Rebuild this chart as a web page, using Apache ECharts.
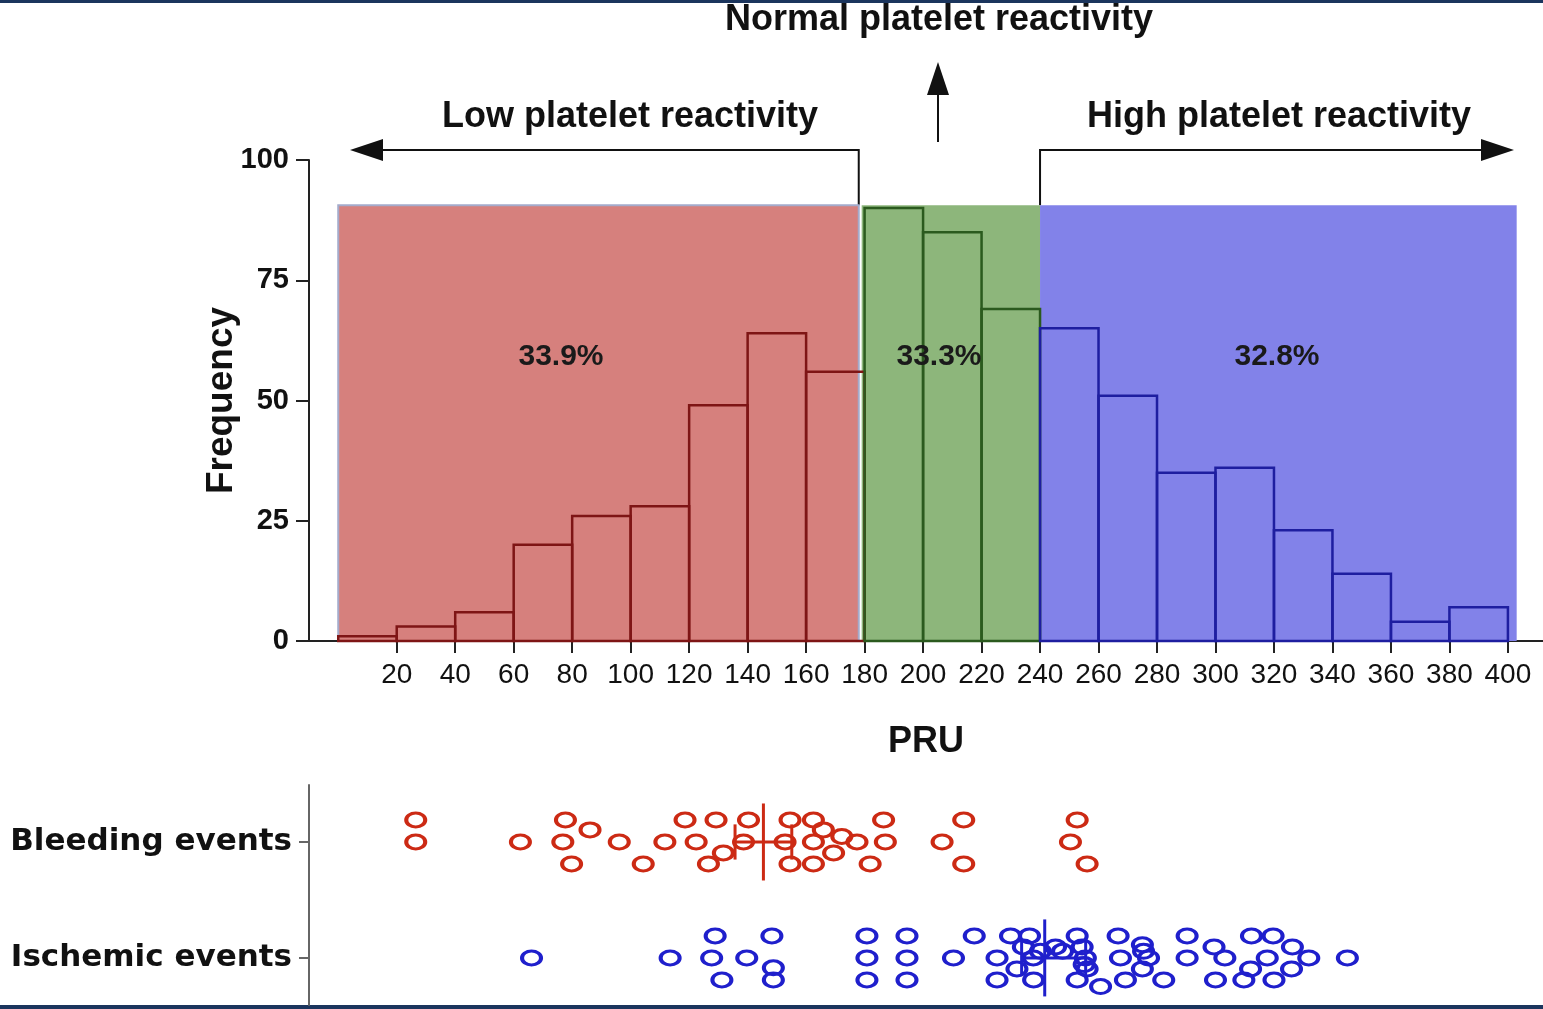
<!DOCTYPE html>
<html>
<head>
<meta charset="utf-8">
<script src="https://cdn.jsdelivr.net/npm/echarts@6/dist/echarts.min.js"></script>
<style>
html, body { margin: 0; padding: 0; background: #fff; }
#view { width: 1543px; height: 1009px; }
</style>
</head>
<body>
<div id="view"></div>
<script>
var myChart = echarts.init(document.getElementById('view'));

// histogram of PRU values (bins of 20)
var binEdges = [0, 20, 40, 60, 80, 100, 120, 140, 160, 180, 200, 220, 240, 260, 280, 300, 320, 340, 360, 380, 400];
var frequency = [1, 3, 6, 20, 26, 28, 49, 64, 56, 90, 85, 69, 65, 51, 35, 36, 23, 14, 4, 7];
var xTicks = [20, 40, 60, 80, 100, 120, 140, 160, 180, 200, 220, 240, 260, 280, 300, 320, 340, 360, 380, 400];

// reactivity zones
var zoneNames = ['Low platelet reactivity', 'Normal platelet reactivity', 'High platelet reactivity'];
var zoneFrom = [0, 179, 240];
var zoneTo = [178, 240, 403];
var zoneTop = 90.6;
var zoneShare = ['33.9%', '33.3%', '32.8%'];

// events: [PRU, stacking offset]
var eventRows = ['Ischemic events', 'Bleeding events'];
var bleeding = [
    [26.5, 1], [26.5, 0], [62.3, 0], [77.7, 1], [76.8, 0], [79.8, -1], [86.1, 0.55], [96.1, 0], [104.3, -1], [111.7, 0],
    [118.6, 1], [122.4, 0], [126.6, -1], [129.2, 1], [131.7, -0.5], [140.3, 1], [138.6, 0], [154.5, 1], [162.5, 1], [152.8, 0],
    [154.5, -1], [162.5, -1], [165.9, 0.55], [162.5, 0], [172.2, 0.25], [169.4, -0.5], [177.4, 0], [186.5, 1], [187.1, 0], [181.9, -1],
    [213.9, 1], [206.5, 0], [213.9, -1], [252.7, 1], [250.4, 0], [256.1, -1]
];
var ischemic = [
    [66.1, 0], [113.5, 0], [128.9, 1], [127.7, 0], [131.2, -1], [139.7, 0], [148.3, 1], [148.8, -0.45], [148.8, -1],
    [180.8, 1], [180.8, 0], [180.8, -1], [194.5, 1], [194.5, 0], [194.5, -1], [210.4, 0], [217.5, 1], [225.3, 0], [225.3, -1],
    [229.9, 1], [236.4, 1], [234.3, 0.5], [237.7, 0], [232.1, -0.5], [237.8, -1], [240.1, 0.3], [245.3, 0.5], [247.7, 0.3],
    [252.7, 1], [254.4, 0.5], [255.5, 0], [256.1, -0.5], [255.1, -0.3], [252.7, -1], [260.7, -1.3],
    [266.7, 1], [267.5, 0], [269.2, -1], [275.0, 0.6], [275.4, 0.3], [277.1, 0], [275.0, -0.5], [282.3, -1],
    [290.3, 1], [290.3, 0], [299.5, 0.5], [303.2, 0], [300.0, -1], [312.3, 1], [319.7, 1], [326.3, 0.5], [317.7, 0], [331.9, 0],
    [312.0, -0.5], [326.0, -0.5], [309.7, -1], [320.0, -1], [345.1, 0]
];
// [low, centre, high]
var bleedingCI = [135.7, 145.4, 155.1];
var ischemicCI = [233.7, 241.6, 255.6];

var rowPos = [0, 5.27];
var zoneFill = ['#D6807D', '#8DB67B', '#8282E9'];
var barEdge = ['#7E1515', '#2B5A1E', '#1E1EA0'];
var dotColor = ['#1F1FCC', '#CC2A14'];
var tickFont = '"Liberation Sans", Arial, sans-serif';

function zoneOf(v) {
    return v < zoneTo[0] ? 0 : (v < zoneTo[1] ? 1 : 2);
}

var zoneData = zoneNames.map(function (n, i) { return [zoneFrom[i], zoneTo[i], zoneTop, i]; });
var binData = frequency.map(function (f, i) { return [binEdges[i], binEdges[i + 1], f]; });
var ciData = [ischemicCI.concat([rowPos[0]]), bleedingCI.concat([rowPos[1]])];

function rowDots(list, r) {
    return list.map(function (d) { return [d[0], rowPos[r] + d[1]]; });
}

option = {
    animation: false,
    backgroundColor: '#fff',
    grid: [
        {left: 309, right: 0, top: 160, bottom: 368},
        {left: 309, right: 0, top: 785, bottom: 4}
    ],
    xAxis: [{
        gridIndex: 0,
        type: 'value',
        min: -10,
        max: 412,
        name: 'PRU',
        nameLocation: 'middle',
        nameGap: 83,
        nameTextStyle: {fontSize: 36, fontWeight: 'bold', color: '#111', fontFamily: tickFont},
        axisLine: {onZero: false, lineStyle: {color: '#222', width: 2}},
        axisTick: {customValues: xTicks, length: 12, lineStyle: {color: '#222', width: 2}},
        axisLabel: {customValues: xTicks, margin: 20, fontSize: 28, color: '#111', fontFamily: tickFont},
        splitLine: {show: false}
    }, {
        gridIndex: 1,
        type: 'value',
        min: -10,
        max: 412,
        show: false
    }],
    yAxis: [{
        gridIndex: 0,
        type: 'value',
        min: 0,
        max: 100,
        interval: 25,
        name: 'Frequency',
        nameLocation: 'middle',
        nameGap: 69,
        nameMoveOverlap: false,
        nameTextStyle: {fontSize: 37, fontWeight: 'bold', color: '#111', fontFamily: tickFont},
        axisLine: {show: true, onZero: false, lineStyle: {color: '#222', width: 2}},
        axisTick: {show: true, length: 13, lineStyle: {color: '#222', width: 2}},
        axisLabel: {margin: 20, fontSize: 29, fontWeight: 'bold', color: '#111', fontFamily: tickFont},
        splitLine: {show: false}
    }, {
        gridIndex: 1,
        type: 'value',
        min: -2.14,
        max: 7.86,
        axisLine: {show: true, onZero: false, lineStyle: {color: '#666', width: 2}},
        axisTick: {show: true, customValues: rowPos, length: 10, lineStyle: {color: '#666', width: 2}},
        axisLabel: {
            customValues: rowPos,
            margin: 17,
            fontSize: 31,
            fontWeight: 'bold',
            color: '#111',
            fontFamily: '"DejaVu Sans", Verdana, sans-serif',
            formatter: function (v) {
                for (var i = 0; i < rowPos.length; i++) {
                    if (Math.abs(v - rowPos[i]) < 0.01) return eventRows[i];
                }
                return '';
            }
        },
        splitLine: {show: false}
    }],
    series: [{
        name: 'zones',
        type: 'custom',
        xAxisIndex: 0,
        yAxisIndex: 0,
        z: 1,
        data: zoneData,
        encode: {x: [0, 1], y: 2},
        renderItem: function (params, api) {
            var p0 = api.coord([api.value(0), 0]);
            var p1 = api.coord([api.value(1), api.value(2)]);
            var i = api.value(3);
            return {
                type: 'rect',
                shape: {x: p0[0], y: p1[1], width: p1[0] - p0[0], height: p0[1] - p1[1]},
                style: {fill: zoneFill[i], stroke: i === 0 ? '#A4ABCB' : null, lineWidth: 2}
            };
        }
    }, {
        name: 'Frequency',
        type: 'custom',
        xAxisIndex: 0,
        yAxisIndex: 0,
        z: 2,
        data: binData,
        encode: {x: [0, 1], y: 2},
        renderItem: function (params, api) {
            var p0 = api.coord([api.value(0), 0]);
            var p1 = api.coord([api.value(1), api.value(2)]);
            return {
                type: 'rect',
                shape: {x: p0[0], y: p1[1], width: p1[0] - p0[0], height: p0[1] - p1[1]},
                style: {fill: null, stroke: barEdge[zoneOf(api.value(0))], lineWidth: 2.5}
            };
        }
    }, {
        name: eventRows[1],
        type: 'scatter',
        xAxisIndex: 1,
        yAxisIndex: 1,
        symbol: 'circle',
        symbolSize: [19, 14],
        itemStyle: {color: 'rgba(0,0,0,0)', borderColor: dotColor[1], borderWidth: 3.5, opacity: 1},
        data: rowDots(bleeding, 1)
    }, {
        name: eventRows[0],
        type: 'scatter',
        xAxisIndex: 1,
        yAxisIndex: 1,
        symbol: 'circle',
        symbolSize: [19, 14],
        itemStyle: {color: 'rgba(0,0,0,0)', borderColor: dotColor[0], borderWidth: 3.5, opacity: 1},
        data: rowDots(ischemic, 0)
    }, {
        name: 'ci',
        type: 'custom',
        xAxisIndex: 1,
        yAxisIndex: 1,
        z: 5,
        data: ciData,
        encode: {x: [0, 1, 2], y: 3},
        renderItem: function (params, api) {
            var lo = api.value(0), mid = api.value(1), hi = api.value(2), row = api.value(3);
            var c = dotColor[params.dataIndex];
            var st = {stroke: c, lineWidth: 3};
            function seg(x1, y1, x2, y2) {
                var a = api.coord([x1, y1]), b = api.coord([x2, y2]);
                return {type: 'line', shape: {x1: a[0], y1: a[1], x2: b[0], y2: b[1]}, style: st};
            }
            return {
                type: 'group',
                children: [
                    seg(mid, row - 1.75, mid, row + 1.75),
                    seg(lo, row, hi, row),
                    seg(lo, row - 0.8, lo, row + 0.8),
                    seg(hi, row - 0.8, hi, row + 0.8)
                ]
            };
        }
    }]
};

myChart.setOption(option);

// annotations: arrows and zone labels
var xLow = myChart.convertToPixel({xAxisIndex: 0}, zoneTo[0]);
var xHigh = myChart.convertToPixel({xAxisIndex: 0}, zoneFrom[2]);
var yTop = myChart.convertToPixel({yAxisIndex: 0}, zoneTop);
var titleFont = 'bold 36px "Liberation Sans", Arial, sans-serif';
var shareFont = 'bold 30px "Liberation Sans", Arial, sans-serif';
var arrowStyle = {stroke: '#111', lineWidth: 2, fill: null};

myChart.setOption({
    graphic: [
        {type: 'rect', shape: {x: 0, y: 0, width: 1543, height: 3}, style: {fill: '#1B355D'}},
        {type: 'rect', shape: {x: 0, y: 1005, width: 1543, height: 4}, style: {fill: '#1B355D'}},
        {type: 'polyline', shape: {points: [[xLow, yTop], [xLow, 150], [380, 150]]}, style: arrowStyle},
        {type: 'polygon', shape: {points: [[350, 150], [383, 139], [383, 161]]}, style: {fill: '#111'}},
        {type: 'polyline', shape: {points: [[xHigh, yTop], [xHigh, 150], [1484, 150]]}, style: arrowStyle},
        {type: 'polygon', shape: {points: [[1514, 150], [1481, 139], [1481, 161]]}, style: {fill: '#111'}},
        {type: 'line', shape: {x1: 938, y1: 142, x2: 938, y2: 92}, style: arrowStyle},
        {type: 'polygon', shape: {points: [[938, 62], [927, 95], [949, 95]]}, style: {fill: '#111'}},
        {type: 'text', style: {text: zoneNames[1], x: 939, y: 20, align: 'center', verticalAlign: 'middle', font: titleFont, fill: '#111'}},
        {type: 'text', style: {text: zoneNames[0], x: 630, y: 117, align: 'center', verticalAlign: 'middle', font: titleFont, fill: '#111'}},
        {type: 'text', style: {text: zoneNames[2], x: 1279, y: 117, align: 'center', verticalAlign: 'middle', font: titleFont, fill: '#111'}},
        {type: 'text', z: 10, style: {text: zoneShare[0], x: 561, y: 357, align: 'center', verticalAlign: 'middle', font: shareFont, fill: '#1a1a1a'}},
        {type: 'text', z: 10, style: {text: zoneShare[1], x: 939, y: 357, align: 'center', verticalAlign: 'middle', font: shareFont, fill: '#1a1a1a'}},
        {type: 'text', z: 10, style: {text: zoneShare[2], x: 1277, y: 357, align: 'center', verticalAlign: 'middle', font: shareFont, fill: '#1a1a1a'}}
    ]
});
</script>
</body>
</html>
